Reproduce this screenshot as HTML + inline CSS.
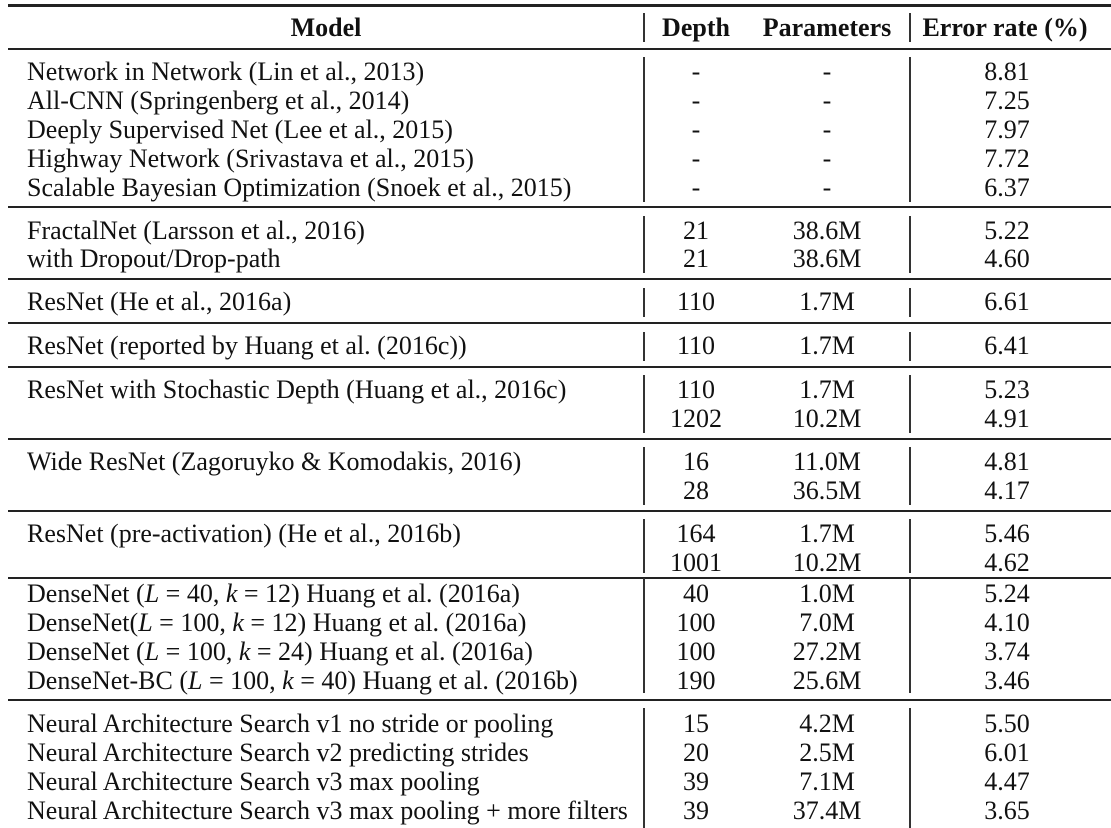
<!DOCTYPE html>
<html><head><style>
body{margin:0;background:#fff;width:1111px;height:828px;position:relative;overflow:hidden;font-family:"Liberation Serif",serif;font-size:26px;color:#111}
.r{position:absolute;left:8px;right:0;background:#222}
.v{position:absolute;width:1.5px;background:#333}
.t{position:absolute;white-space:nowrap;line-height:29px;height:29px}
.l{left:27px}
.c{transform:translateX(-50%)}
b{font-weight:bold}
i{font-style:italic}
</style></head><body>
<div class="r" style="top:4px;height:3px"></div>
<div class="r" style="top:48px;height:2px"></div>
<div class="r" style="top:206px;height:2px"></div>
<div class="r" style="top:278px;height:2px"></div>
<div class="r" style="top:322px;height:2px"></div>
<div class="r" style="top:366px;height:2px"></div>
<div class="r" style="top:438px;height:2px"></div>
<div class="r" style="top:510px;height:2px"></div>
<div class="r" style="top:577px;height:1.5px"></div>
<div class="r" style="top:699px;height:2px"></div>

<div class="v" style="left:643px;top:13px;height:29px"></div><div class="v" style="left:909px;top:13px;height:29px"></div>
<div class="v" style="left:643px;top:57px;height:145px"></div><div class="v" style="left:909px;top:57px;height:145px"></div>
<div class="v" style="left:643px;top:216px;height:57px"></div><div class="v" style="left:909px;top:216px;height:57px"></div>
<div class="v" style="left:643px;top:288px;height:29px"></div><div class="v" style="left:909px;top:288px;height:29px"></div>
<div class="v" style="left:643px;top:332px;height:29px"></div><div class="v" style="left:909px;top:332px;height:29px"></div>
<div class="v" style="left:643px;top:375px;height:58px"></div><div class="v" style="left:909px;top:375px;height:58px"></div>
<div class="v" style="left:643px;top:447px;height:58px"></div><div class="v" style="left:909px;top:447px;height:58px"></div>
<div class="v" style="left:643px;top:519px;height:54px"></div><div class="v" style="left:909px;top:519px;height:54px"></div>
<div class="v" style="left:643px;top:578px;height:115px"></div><div class="v" style="left:909px;top:578px;height:115px"></div>
<div class="v" style="left:643px;top:708px;height:120px"></div><div class="v" style="left:909px;top:708px;height:120px"></div>

<div class="t c" style="top:13px;left:326px"><b>Model</b></div>
<div class="t c" style="top:13px;left:696px"><b>Depth</b></div>
<div class="t c" style="top:13px;left:827px"><b>Parameters</b></div>
<div class="t c" style="top:13px;left:1005px"><b>Error rate (%)</b></div>

<div id="rows"></div>
<script>
var rows=[
[71,"Network in Network (Lin et al., 2013)","-","-","8.81"],
[100,"All-CNN (Springenberg et al., 2014)","-","-","7.25"],
[129,"Deeply Supervised Net (Lee et al., 2015)","-","-","7.97"],
[158,"Highway Network (Srivastava et al., 2015)","-","-","7.72"],
[187,"Scalable Bayesian Optimization (Snoek et al., 2015)","-","-","6.37"],
[230,"FractalNet (Larsson et al., 2016)","21","38.6M","5.22"],
[258,"with Dropout/Drop-path","21","38.6M","4.60"],
[301,"ResNet (He et al., 2016a)","110","1.7M","6.61"],
[345,"ResNet (reported by Huang et al. (2016c))","110","1.7M","6.41"],
[389,"ResNet with Stochastic Depth (Huang et al., 2016c)","110","1.7M","5.23"],
[418,"","1202","10.2M","4.91"],
[461,"Wide ResNet (Zagoruyko &amp; Komodakis, 2016)","16","11.0M","4.81"],
[490,"","28","36.5M","4.17"],
[533,"ResNet (pre-activation) (He et al., 2016b)","164","1.7M","5.46"],
[562,"","1001","10.2M","4.62"],
[593,"DenseNet (<i>L</i> = 40, <i>k</i> = 12) Huang et al. (2016a)","40","1.0M","5.24"],
[622,"DenseNet(<i>L</i> = 100, <i>k</i> = 12) Huang et al. (2016a)","100","7.0M","4.10"],
[651,"DenseNet (<i>L</i> = 100, <i>k</i> = 24) Huang et al. (2016a)","100","27.2M","3.74"],
[680,"DenseNet-BC (<i>L</i> = 100, <i>k</i> = 40) Huang et al. (2016b)","190","25.6M","3.46"],
[723,"Neural Architecture Search v1 no stride or pooling","15","4.2M","5.50"],
[752,"Neural Architecture Search v2 predicting strides","20","2.5M","6.01"],
[781,"Neural Architecture Search v3 max pooling","39","7.1M","4.47"],
[810,"Neural Architecture Search v3 max pooling + more filters","39","37.4M","3.65"]];
var h="";
rows.forEach(function(r){var y=r[0]-14.5;
h+='<div class="t l" style="top:'+y+'px">'+r[1]+'</div>';
h+='<div class="t c" style="top:'+y+'px;left:696px">'+r[2]+'</div>';
h+='<div class="t c" style="top:'+y+'px;left:827px">'+r[3]+'</div>';
h+='<div class="t c" style="top:'+y+'px;left:1007px">'+r[4]+'</div>';});
document.getElementById("rows").innerHTML=h;
</script>
</body></html>
